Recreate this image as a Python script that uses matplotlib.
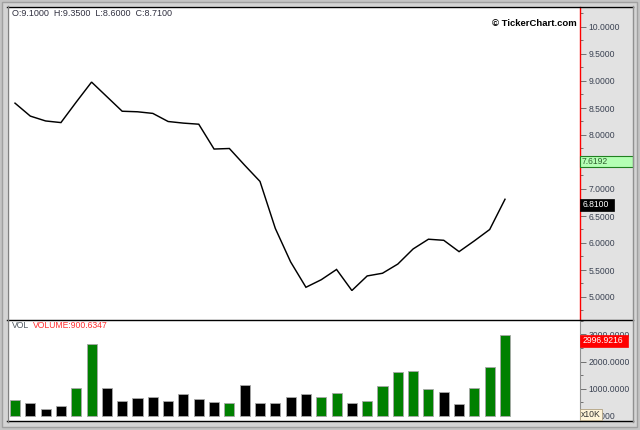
import matplotlib
matplotlib.use("Agg")
import matplotlib.pyplot as plt
from matplotlib.patches import Rectangle
from matplotlib.lines import Line2D
from matplotlib.ticker import MultipleLocator, FormatStrFormatter
from matplotlib.transforms import blended_transform_factory

# ---- data ----
close = [8.59, 8.35, 8.26, 8.23, 8.61, 8.98, 8.71, 8.44, 8.43, 8.40, 8.25,
         8.22, 8.20, 7.74, 7.75, 7.44, 7.14, 6.27, 5.65, 5.18, 5.32, 5.51,
         5.12, 5.39, 5.44, 5.61, 5.89, 6.07, 6.05, 5.84, 6.04, 6.25, 6.81]
volume = [580, 480, 236, 358, 1012, 2638, 1012, 543, 665, 702, 543,
          790, 628, 517, 480, 1134, 480, 480, 702, 790, 702, 850,
          480, 554, 1097, 1603, 1651, 975, 887, 443, 1012, 1799, 2996.9216]
up = [1, 0, 0, 0, 1, 1, 0, 0, 0, 0, 0, 0, 0, 0, 1, 0, 0, 0, 0, 0, 1, 1,
      0, 1, 1, 1, 1, 1, 0, 0, 1, 1, 1]
ohlc_text = "O:9.1000  H:9.3500  L:8.6000  C:8.7100"
ma_value = 7.6192
last_close = 6.81
last_volume = 2996.9216
vol_label = "VOLUME:900.6347"

W, H = 640, 430
plt.rcParams["font.family"] = ["Liberation Sans", "DejaVu Sans"]
fig = plt.figure(figsize=(W / 100, H / 100), dpi=100)
fig.patch.set_facecolor("#c4c4c4")

def fx(px):
    return px / W

def fy(py):
    return 1 - py / H

# bevel of the outer frame
fig.patches.append(Rectangle((fx(2), fy(427)), fx(637) - fx(2), fy(2) - fy(427),
                             transform=fig.transFigure, facecolor="#d4d4d4",
                             edgecolor="#a0a0a0", lw=1.0, zorder=-6))
# background of the chart area (behind axes)
fig.patches.append(Rectangle((fx(7), fy(422)), fx(633) - fx(7), fy(6) - fy(422),
                             transform=fig.transFigure, facecolor="#e2e2e2",
                             edgecolor="none", zorder=-5))

L, R = 8, 580
TOP, MID, BOT = 7, 320, 421
axp = fig.add_axes([fx(L), fy(MID), fx(R) - fx(L), fy(TOP) - fy(MID)])
axv = fig.add_axes([fx(L), fy(BOT), fx(R) - fx(L), fy(MID) - fy(BOT)])

n = len(close)
x = list(range(n))
spacing = 15.3125
xl = (-(15 - L) / spacing, (R - 15) / spacing)

# price panel
axp.plot(x, close, color="black", lw=1.05, solid_joinstyle="miter")
axp.set_xlim(*xl)
axp.set_ylim(10 - (MID - 27) / 54, 10 + (27 - TOP) / 54)

# volume panel
colors = ["#008000" if u else "black" for u in up]
axv.bar(x, volume, width=0.66, color=colors, edgecolor="#a8a8a8", linewidth=0.6)
axv.set_xlim(*xl)
scale = 27.07 / 1000
axv.set_ylim(-(BOT - 415.7) / scale, (415.7 - MID) / scale)

tick_col = "#3a4252"
for ax in (axp, axv):
    ax.set_facecolor("white")
    ax.set_xticks([])
    ax.yaxis.tick_right()
    for s in ("top", "bottom", "left"):
        ax.spines[s].set_visible(False)
    ax.tick_params(axis="y", which="major", length=4, width=0.7, color="#707070",
                   labelsize=6.2, labelcolor=tick_col, pad=2)
    ax.tick_params(axis="y", which="minor", length=2.5, width=0.7, color="#707070")

axp.spines["right"].set_color("#ff0000")
axp.spines["right"].set_linewidth(1.0)
axp.yaxis.set_major_locator(MultipleLocator(0.5))
axp.yaxis.set_minor_locator(MultipleLocator(0.25))
axp.yaxis.set_major_formatter(FormatStrFormatter("%.4f"))

axv.spines["right"].set_color("#909090")
axv.yaxis.set_major_locator(MultipleLocator(1000))
axv.yaxis.set_minor_locator(MultipleLocator(500))
axv.yaxis.set_major_formatter(FormatStrFormatter("%.4f"))

# frame lines
for yy in (TOP - 0.5, MID, BOT):
    fig.lines.append(Line2D([fx(7), fx(633)], [fy(yy), fy(yy)], transform=fig.transFigure,
                            color="black", lw=1.0))
fig.lines.append(Line2D([fx(7.5), fx(7.5)], [fy(6), fy(422)], transform=fig.transFigure,
                        color="#808080", lw=1.0))
fig.lines.append(Line2D([fx(633), fx(633)], [fy(6), fy(422)], transform=fig.transFigure,
                        color="#909090", lw=1.0))

# texts
fig.text(fx(12), fy(13.5), ohlc_text, fontsize=6.45, color="#303040", va="center", ha="left")
fig.text(fx(577), fy(23), "© TickerChart.com", fontsize=6.8, fontweight="bold",
         color="black", va="center", ha="right")
fig.text(fx(12), fy(325), "VOL", fontsize=6.2, color="#505860", va="center", ha="left")
fig.text(fx(33), fy(325), vol_label, fontsize=6.2, color="#ff3030", va="center", ha="left")

# value markers on the axis
tp = blended_transform_factory(fig.transFigure, axp.transData)
axp.add_patch(Rectangle((fx(580), ma_value - 11 / 54), fx(633) - fx(580), 11 / 54,
                        transform=tp, facecolor="#b4ffb4", edgecolor="#208020",
                        lw=0.8, clip_on=False, zorder=5))
axp.text(fx(582), ma_value - 5.5 / 54, f"{ma_value:.4f}", transform=tp, fontsize=6.2,
         color="#306030", va="center", ha="left", clip_on=False, zorder=6)
axp.add_patch(Rectangle((fx(580), last_close - 11.5 / 54), fx(614) - fx(580), 11.5 / 54,
                        transform=tp, facecolor="black", edgecolor="black",
                        lw=0.5, clip_on=False, zorder=5))
axp.text(fx(583), last_close - 5.7 / 54, f"{last_close:.4f}", transform=tp, fontsize=6.2,
         color="white", va="center", ha="left", clip_on=False, zorder=6)

tv = blended_transform_factory(fig.transFigure, axv.transData)
axv.add_patch(Rectangle((fx(580), last_volume - 12 / scale), fx(628) - fx(580), 12 / scale,
                        transform=tv, facecolor="#ff0000", edgecolor="#ff0000",
                        lw=0.5, clip_on=False, zorder=5))
axv.text(fx(583), last_volume - 6 / scale, f"{last_volume:.4f}", transform=tv, fontsize=6.2,
         color="white", va="center", ha="left", clip_on=False, zorder=6)

fig.patches.append(Rectangle((fx(580), fy(420)), fx(602) - fx(580), fy(409) - fy(420),
                             transform=fig.transFigure, facecolor="#fff4d8",
                             edgecolor="#b0a080", lw=0.6, zorder=10))
fig.text(fx(591), fy(414.5), "x10K", fontsize=6.2, color="#303030", va="center",
         ha="center", zorder=11)

fig.savefig("out.png", dpi=100, facecolor=fig.get_facecolor())
